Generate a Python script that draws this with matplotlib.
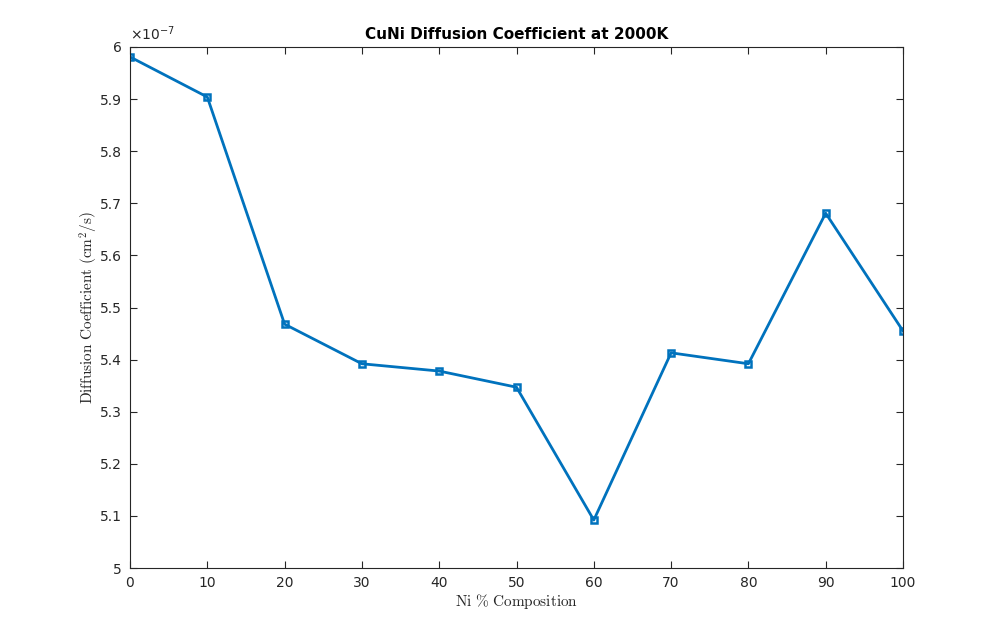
import matplotlib
matplotlib.use("Agg")
import matplotlib.pyplot as plt
from matplotlib.ticker import FormatStrFormatter, MultipleLocator
import numpy as np

ni_percent = [0, 10, 20, 30, 40, 50, 60, 70, 80, 90, 100]
diff_coeff = [5.981e-7, 5.904e-7, 5.468e-7, 5.392e-7, 5.378e-7, 5.347e-7,
              5.092e-7, 5.413e-7, 5.392e-7, 5.681e-7, 5.455e-7]
scale = 1e-7

plt.rcParams['mathtext.fontset'] = 'cm'
plt.rcParams['font.family'] = ['DejaVu Sans']

fig = plt.figure(figsize=(9.98, 6.38), dpi=100)
ax = fig.add_axes([130/998, 1-568/638, (903-130)/998, (568-47)/638])

y = np.array(diff_coeff) / scale
ax.plot(ni_percent, y, color='#0072BD', linewidth=2, marker='s', markersize=4.5,
        markerfacecolor='none', markeredgewidth=1.8)

ax.set_xlim(0, 100)
ax.set_ylim(5, 6)
ax.xaxis.set_major_locator(MultipleLocator(10))
ax.yaxis.set_major_locator(MultipleLocator(0.1))
ax.yaxis.set_major_formatter(FormatStrFormatter('%g'))
ax.tick_params(direction='in', top=True, right=True, length=5, width=0.8,
               labelsize=10, colors='#262626', pad=6)
for s in ax.spines.values():
    s.set_color('#262626')
    s.set_linewidth(0.8)

ax.set_title('CuNi Diffusion Coefficient at 2000K', fontsize=11, fontweight='bold',
             color='black', pad=6)
ax.set_xlabel(r'$\mathrm{Ni\ \%\ Composition}$', fontsize=11, color='#262626', labelpad=1)
ax.set_ylabel(r'$\mathrm{Diffusion\ Coefficient\ (cm^2/s)}$', fontsize=11, color='#262626', labelpad=0)
ax.text(0.0, 1.008, r'$\times10^{-7}$', transform=ax.transAxes, fontsize=10,
        color='#262626', ha='left', va='bottom', math_fontfamily='dejavusans')

fig.savefig('out.png', dpi=100)
